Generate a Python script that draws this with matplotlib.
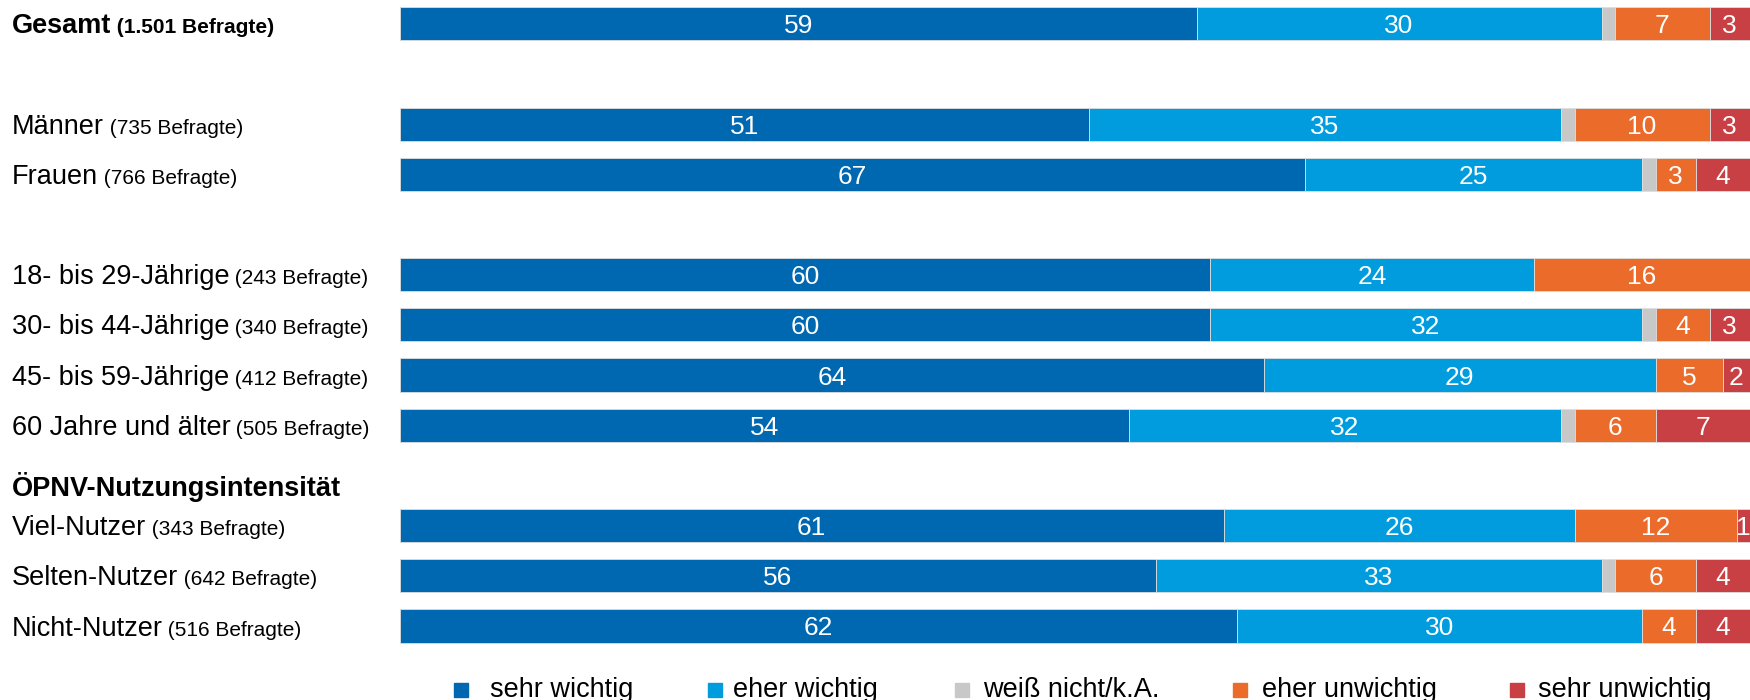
import matplotlib
matplotlib.use("Agg")
import matplotlib.pyplot as plt
import matplotlib.transforms as mtransforms
from matplotlib.patches import Rectangle

plt.rcParams['font.family'] = ['Liberation Sans', 'DejaVu Sans']

# data
groups = ['Gesamt', 'Männer', 'Frauen', '18- bis 29-Jährige', '30- bis 44-Jährige',
          '45- bis 59-Jährige', '60 Jahre und älter', 'Viel-Nutzer', 'Selten-Nutzer',
          'Nicht-Nutzer']
befragte = ['1.501', '735', '766', '243', '340', '412', '505', '343', '642', '516']
sehr_wichtig = [59, 51, 67, 60, 60, 64, 54, 61, 56, 62]
eher_wichtig = [30, 35, 25, 24, 32, 29, 32, 26, 33, 30]
weiss_nicht = [1, 1, 1, 0, 1, 0, 1, 0, 1, 0]
eher_unwichtig = [7, 10, 3, 16, 4, 5, 6, 12, 6, 4]
sehr_unwichtig = [3, 3, 4, 0, 3, 2, 7, 1, 4, 4]
series_names = ['sehr wichtig', 'eher wichtig', 'weiß nicht/k.A.', 'eher unwichtig', 'sehr unwichtig']
section_title = 'ÖPNV-Nutzungsintensität'

colors = ['#0068B0', '#009CDD', '#C8C8C8', '#EB6B2B', '#C84043']
series = [sehr_wichtig, eher_wichtig, weiss_nicht, eher_unwichtig, sehr_unwichtig]
show_label = [True, True, False, True, True]

# layout: row slots (gaps between groups)
row_pos = [0, 2, 3, 5, 6, 7, 8, 10, 11, 12]

W, H = 1750, 700
fig = plt.figure(figsize=(W / 100, H / 100), dpi=100)
ax = fig.add_axes([400 / W, 0, 1350 / W, 1])
slot = 50.19
top = 23.7
ax.set_xlim(0, 100)
ax.set_ylim((H - top) / slot, -top / slot)
ax.axis('off')

left = [0] * len(groups)
for vals, col, lab in zip(series, colors, show_label):
    ax.barh(row_pos, vals, left=left, height=0.66, color=col,
            edgecolor='#dedede', linewidth=0.6)
    if lab:
        for y, v, l in zip(row_pos, vals, left):
            if v > 0:
                ax.text(l + v / 2, y, str(v), color='white', fontsize=19,
                        ha='center', va='center_baseline', clip_on=False)
    left = [a + b for a, b in zip(left, vals)]

# row labels
tr = mtransforms.blended_transform_factory(fig.transFigure, ax.transData)
renderer = fig.canvas.get_renderer()
for i, (g, n, y) in enumerate(zip(groups, befragte, row_pos)):
    weight = 'bold' if i == 0 else 'normal'
    t = fig.text(11.5 / W, y + 0.19, g, fontsize=19.5, fontweight=weight,
                 ha='left', va='baseline', transform=tr)
    bb = t.get_window_extent(renderer=renderer)
    fig.text(bb.x1 / W, y + 0.19, ' (' + n + ' Befragte)', fontsize=15,
             fontweight=weight, ha='left', va='baseline', transform=tr)

fig.text(11.5 / W, 9.41, section_title, fontsize=19.5, fontweight='bold',
         ha='left', va='baseline', transform=tr)

# legend
sq_x = [454, 708, 955, 1233, 1510]
txt_x = [490, 733, 983, 1262, 1538]
for name, col, sx, tx in zip(series_names, colors, sq_x, txt_x):
    fig.patches.append(Rectangle((sx / W, 1 - 697 / H), 14 / W, 14 / H,
                                 transform=fig.transFigure, color=col))
    fig.text(tx / W, 1 - 697 / H, name, fontsize=19.5, ha='left', va='baseline')

fig.savefig('out.png', dpi=100, facecolor='white')
